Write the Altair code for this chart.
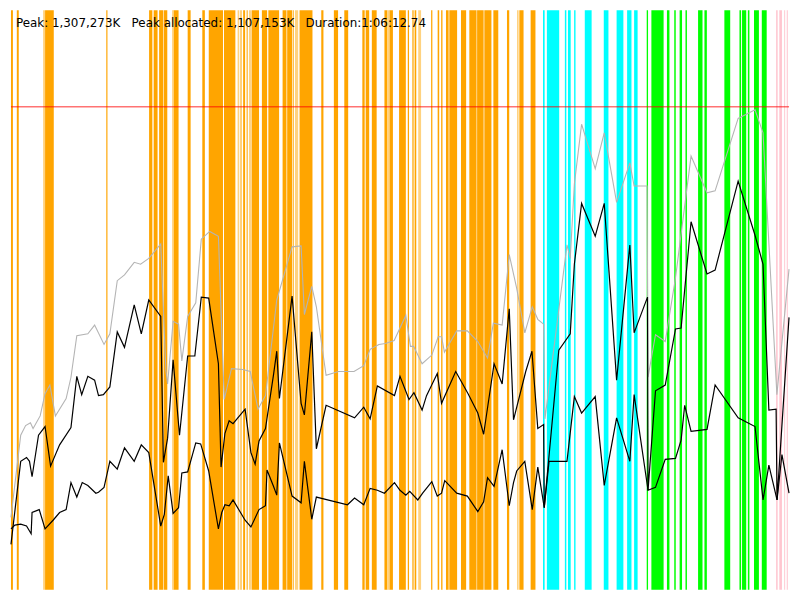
import altair as alt
import pandas as pd

# ---- header text ----
peak_label = "Peak: 1,307,273K"
alloc_label = "Peak allocated: 1,107,153K"
duration_label = "Duration:1:06:12.74"

# time in % of run duration, memory in % of peak (1,307,273K)
peak_level = [100]

gray_t = [0, 1.25, 1.88, 2.5, 2.84, 3.75, 4.38, 5, 5.71, 7.09, 7.71, 8.46, 9.88, 10.75, 11.96, 12.71,
          13.66, 14.59, 15.84, 16.66, 17.71, 19.25, 19.91, 20.13, 20.84, 21.54, 21.96, 22.71, 23.75,
          24.46, 25.54, 26.66, 27.41, 28.34, 29.79, 30.75, 31.75, 32.71, 33.75, 34.16, 36.13, 37.29,
          37.71, 38.66, 39.25, 40.5, 42.09, 44.09, 45.34, 46.16, 47.29, 48.13, 49.25, 50.75, 51.34,
          51.75, 52.84, 54.09, 54.91, 55.34, 55.71, 57.29, 58.66, 60, 61.25, 62, 63.13, 64.04, 65,
          66.04, 67, 67.71, 68.46, 68.63, 71.46, 71.88, 72.41, 73.34, 75.09, 76.25, 77.84, 79.54,
          80.09, 81.75, 81.88, 82.84, 84.09, 85.41, 87.41, 89.46, 90.5, 93.46, 95.63, 96.66, 98.44, 100]
gray_v = [15, 32, 34, 34.6, 33.4, 36, 40.6, 42.4, 36, 39.6, 44, 52.6, 53, 54.8, 50.8, 53,
          64, 65.2, 67.8, 67.4, 68.6, 71.6, 45.4, 42.6, 55.6, 55, 47.4, 56.6, 59.4,
          72.6, 74.2, 73.2, 39.4, 45.8, 45.6, 45.2, 37.4, 40.2, 54.4, 60, 71, 71.2,
          57, 62.8, 58.6, 44.4, 45.2, 45.2, 46.4, 49.8, 50.8, 51, 51.6, 56.8, 50.4,
          50.4, 46.8, 48.6, 52.4, 52.4, 49.2, 53.6, 53.6, 51.4, 48, 55.2, 54.8, 69.4, 62.4,
          53.2, 58.6, 56, 55, 35.4, 71.4, 68.6, 84, 96.4, 87.2, 94.6, 80.2, 88.4,
          83.6, 83.6, 44, 52.8, 51.4, 64.6, 89.8, 82.2, 82.6, 97.6, 99.4, 94.6, 40.4, 66.4]

upper_t = [0, 1.25, 2, 2.38, 2.71, 3.54, 4.38, 5.09, 6.25, 7.71, 8.46, 9.09, 9.88, 10.75, 11.25, 11.88,
           12.71, 13.66, 14.59, 15.84, 16.75, 17.71, 19.25, 19.59, 20.13, 20.84, 21.66, 22.71, 23.63,
           24.46, 25.41, 26.66, 27, 27.5, 28.04, 28.54, 30.09, 30.84, 31.38, 31.88, 32.71, 33.75, 34.16,
           34.5, 36.13, 37.29, 37.71, 38.66, 39.25, 40.5, 44.16, 45.34, 46.16, 47.09, 49.29, 50, 51.16,
           51.79, 52.84, 53.41, 54.79, 55.34, 57.16, 58.75, 60, 60.75, 62.09, 63.13, 64.04, 64.59, 66.16,
           66.96, 67.71, 68.46, 68.54, 70.41, 71.88, 72.41, 73.34, 75.09, 76.25, 77.84, 79.54, 80.09,
           81.81, 81.88, 82.84, 84.09, 85.41, 86.13, 87.41, 89.46, 90.5, 93.46, 95.63, 96.66, 97.41,
           98.34, 98.46, 100]
upper_v = [9.4, 26.6, 27.4, 26.6, 23.4, 32, 33.8, 25.6, 30, 33.6, 44.2, 40.4, 44.2, 43.4, 40.2, 40.4,
           42, 53.4, 50.2, 59, 53, 60, 56.6, 26.4, 31.4, 47.6, 32, 48.4, 48.4,
           60.6, 60.4, 46.8, 25.4, 32.4, 35, 34.4, 37.4, 28.4, 26, 30.8, 33.4, 44.6, 49.4,
           39.6, 60.8, 38.6, 36.2, 53.4, 29.2, 38.2, 35.6, 37.8, 35.4, 42.2, 40.2, 44.2, 39.4,
           40.8, 37.2, 40.2, 44.8, 38.6, 45.2, 40.6, 36.6, 32.2, 46.8, 42.6, 58.2, 35.2, 45.2,
           49.4, 33.4, 34.2, 17, 49.6, 53, 67.4, 80, 73.2, 80, 43.4, 71.4, 53.2,
           60.6, 20.6, 41.2, 42.4, 54, 54.2, 76.2, 65.4, 66.2, 84.6, 73.4, 67.4, 37.2,
           37.4, 18.6, 56.4]

lower_t = [0, 0.5, 1.25, 2, 2.59, 2.71, 3.63, 4.38, 5.41, 6.25, 7.09, 7.71, 8.46, 9.16, 9.88, 10.91,
           11.25, 11.96, 12.71, 13.66, 14.59, 15.84, 16.75, 17.71, 19.25, 19.71, 20.21, 20.84, 21.54,
           21.96, 22.71, 23.75, 24.38, 25.41, 26.66, 27.09, 27.5, 28.04, 28.54, 30.09, 30.84, 31.88,
           32.71, 32.91, 33.75, 34.16, 34.5, 36.13, 37.29, 37.71, 38.66, 39.25, 43.25, 44.16, 45.34,
           46.16, 47.09, 48, 49.29, 50, 50.75, 51.25, 52.29, 52.91, 54.09, 54.79, 55.34, 55.75, 57.29,
           58.66, 60, 60.75, 61.25, 62.09, 63.13, 64.04, 64.59, 65, 66.04, 67, 67.71, 68.54, 69.16,
           71.46, 72.41, 73.34, 75.09, 76.25, 77.84, 79.54, 80.09, 81.88, 82.84, 84.09, 85.41, 86.13,
           86.59, 87.41, 89.46, 90.5, 93.46, 95.63, 96.66, 97.41, 98.46, 99.09, 100]
lower_v = [12.6, 13.4, 13.6, 13.2, 11.6, 16, 16.6, 12.6, 14.4, 16, 16.6, 22.2, 19.2, 22.2, 21.6, 20,
           20.2, 21.2, 26.6, 25, 29.4, 26.6, 30, 28.4, 13.2, 15.6, 23.6, 15.8, 17,
           24.2, 24.4, 30.4, 30.2, 24.6, 12.6, 16, 17.6, 17.4, 18.6, 14.4, 13, 16.6,
           17.4, 24.8, 21.4, 19.6, 30.4, 19.4, 18, 26.6, 14.6, 19.2, 17.6, 19, 17.6,
           21, 20.6, 20, 22.2, 20.6, 19.6, 20.4, 18.6, 20, 22.4, 19.4, 20, 22.6, 20,
           19.4, 16.2, 18.2, 23.2, 21.4, 29, 17.4, 22.2, 24.6, 26.6, 16.6, 25.4, 17, 26.6,
           26.6, 40, 36.6, 40, 21.6, 35.6, 26.6, 40.4, 20.6, 21.2, 27, 27.2, 31,
           38.2, 32.8, 33.2, 42.4, 35.6, 33.8, 18.6, 25.8, 18.6, 28, 20]

# ---- event bands (start %, end %) ----
orange_start = [0, 0.75, 4.38, 12.25, 17.75, 18.34, 19.04, 19.67, 20.88, 22.71, 24.59, 25.42,
                27.38, 29.5, 29.84, 30.29, 30.92, 32.25, 33.08, 34.91, 35.5, 36.25, 37.09,
                39.88, 41.5, 42.84, 45.16, 45.59, 46.38, 48, 48.63, 49.88, 51, 51.59, 51.88,
                54, 54.84, 55.29, 55.91, 56.34, 57.84, 58.91, 59.91, 60.84, 62, 63.75, 65.34, 66.79]
orange_end = [0.25, 1.0, 5.5, 12.4, 18.17, 18.84, 19.59, 20.09, 21.54, 23.09, 24.92, 27.25,
              28.84, 29.63, 30.09, 30.42, 31.88, 32.92, 34.46, 35.41, 36.16, 36.34, 38.75,
              40.16, 42.04, 43.34, 45.46, 46.04, 47, 48.38, 49.09, 50.75, 51.16, 51.75, 52.09,
              54.16, 55.04, 55.46, 56.25, 57.34, 58.5, 59.84, 60.75, 61.75, 62.63, 64.04, 65.88, 67.41]
pale_start = [4.13, 20.71, 29.13, 30.59, 36.5, 48.38, 52.34, 65.04]
pale_end = [4.38, 20.88, 29.34, 30.84, 36.91, 48.63, 52.71, 65.25]
cyan_start = [68.38, 68.88, 71.19, 71.59, 72.38, 73.75, 76.19, 77.84, 79.19, 80.09]
cyan_end = [68.59, 70.46, 71.38, 71.94, 72.56, 74.63, 76.79, 78.71, 79.75, 80.54]
green_start = [81.71, 82.31, 84.31, 85.25, 85.94, 86.69, 88.31, 89.13, 91.69, 93.63, 93.96, 94.71,
               95.5, 96.5]
green_end = [81.88, 83.88, 84.63, 85.44, 86.25, 86.88, 88.88, 89.44, 92.44, 93.84, 94.5, 94.91,
             96.13, 97.13]
pink_start = [98.34, 98.75, 99.38, 99.71]
pink_end = [98.54, 99.09, 99.5, 99.84]

W, H = 784, 584

bands = pd.concat([
    pd.DataFrame({"start": orange_start, "end": orange_end, "kind": "orange"}),
    pd.DataFrame({"start": pale_start, "end": pale_end, "kind": "pale"}),
    pd.DataFrame({"start": cyan_start, "end": cyan_end, "kind": "cyan"}),
    pd.DataFrame({"start": green_start, "end": green_end, "kind": "green"}),
    pd.DataFrame({"start": pink_start, "end": pink_end, "kind": "pink"}),
], ignore_index=True)

lines = pd.concat([
    pd.DataFrame({"t": gray_t, "v": gray_v, "series": "peak"}),
    pd.DataFrame({"t": upper_t, "v": upper_v, "series": "upper"}),
    pd.DataFrame({"t": lower_t, "v": lower_v, "series": "lower"}),
], ignore_index=True)

xs = alt.Scale(domain=[0, 100], nice=False, zero=False)
ys = alt.Scale(domain=[0, 120], nice=False, zero=False)

band_layer = alt.Chart(bands).mark_rect().encode(
    x=alt.X("start:Q", scale=xs, axis=None),
    x2="end:Q",
    color=alt.Color("kind:N", legend=None,
                    scale=alt.Scale(domain=["orange", "pale", "cyan", "green", "pink"],
                                    range=["#FFA500", "#FFD27F", "#00FFFF", "#00FF00", "#FFC6D0"])),
)

gray_layer = alt.Chart(lines[lines.series == "peak"]).mark_line(
    color="#B4B4B4", strokeWidth=1.1, interpolate="linear").encode(
    x=alt.X("t:Q", scale=xs, axis=None),
    y=alt.Y("v:Q", scale=ys, axis=None),
)

black_layer = alt.Chart(lines[lines.series != "peak"]).mark_line(
    color="#000000", strokeWidth=1.2, interpolate="linear").encode(
    x=alt.X("t:Q", scale=xs, axis=None),
    y=alt.Y("v:Q", scale=ys, axis=None),
    detail="series:N",
)

peak_rule = alt.Chart(pd.DataFrame({"peak": peak_level})).mark_rule(
    color="#FF0000", opacity=0.55, strokeWidth=1.5).encode(
    y=alt.Y("peak:Q", scale=ys, axis=None),
)

sp = "\u00a0\u00a0\u00a0"
header = alt.Chart(pd.DataFrame({"label": [peak_label + sp + alloc_label + sp + duration_label]})).mark_text(
    align="left", baseline="alphabetic", fontSize=12, font="DejaVu Sans", color="#000000").encode(
    x=alt.value(5), y=alt.value(17), text="label:N",
)

chart = alt.layer(band_layer, gray_layer, black_layer, peak_rule, header).properties(
    width=W, height=H, padding=0, background="#FFFFFF"
).configure_view(stroke=None)

chart.save("out.html", embed_options={"renderer": "svg", "actions": False})
